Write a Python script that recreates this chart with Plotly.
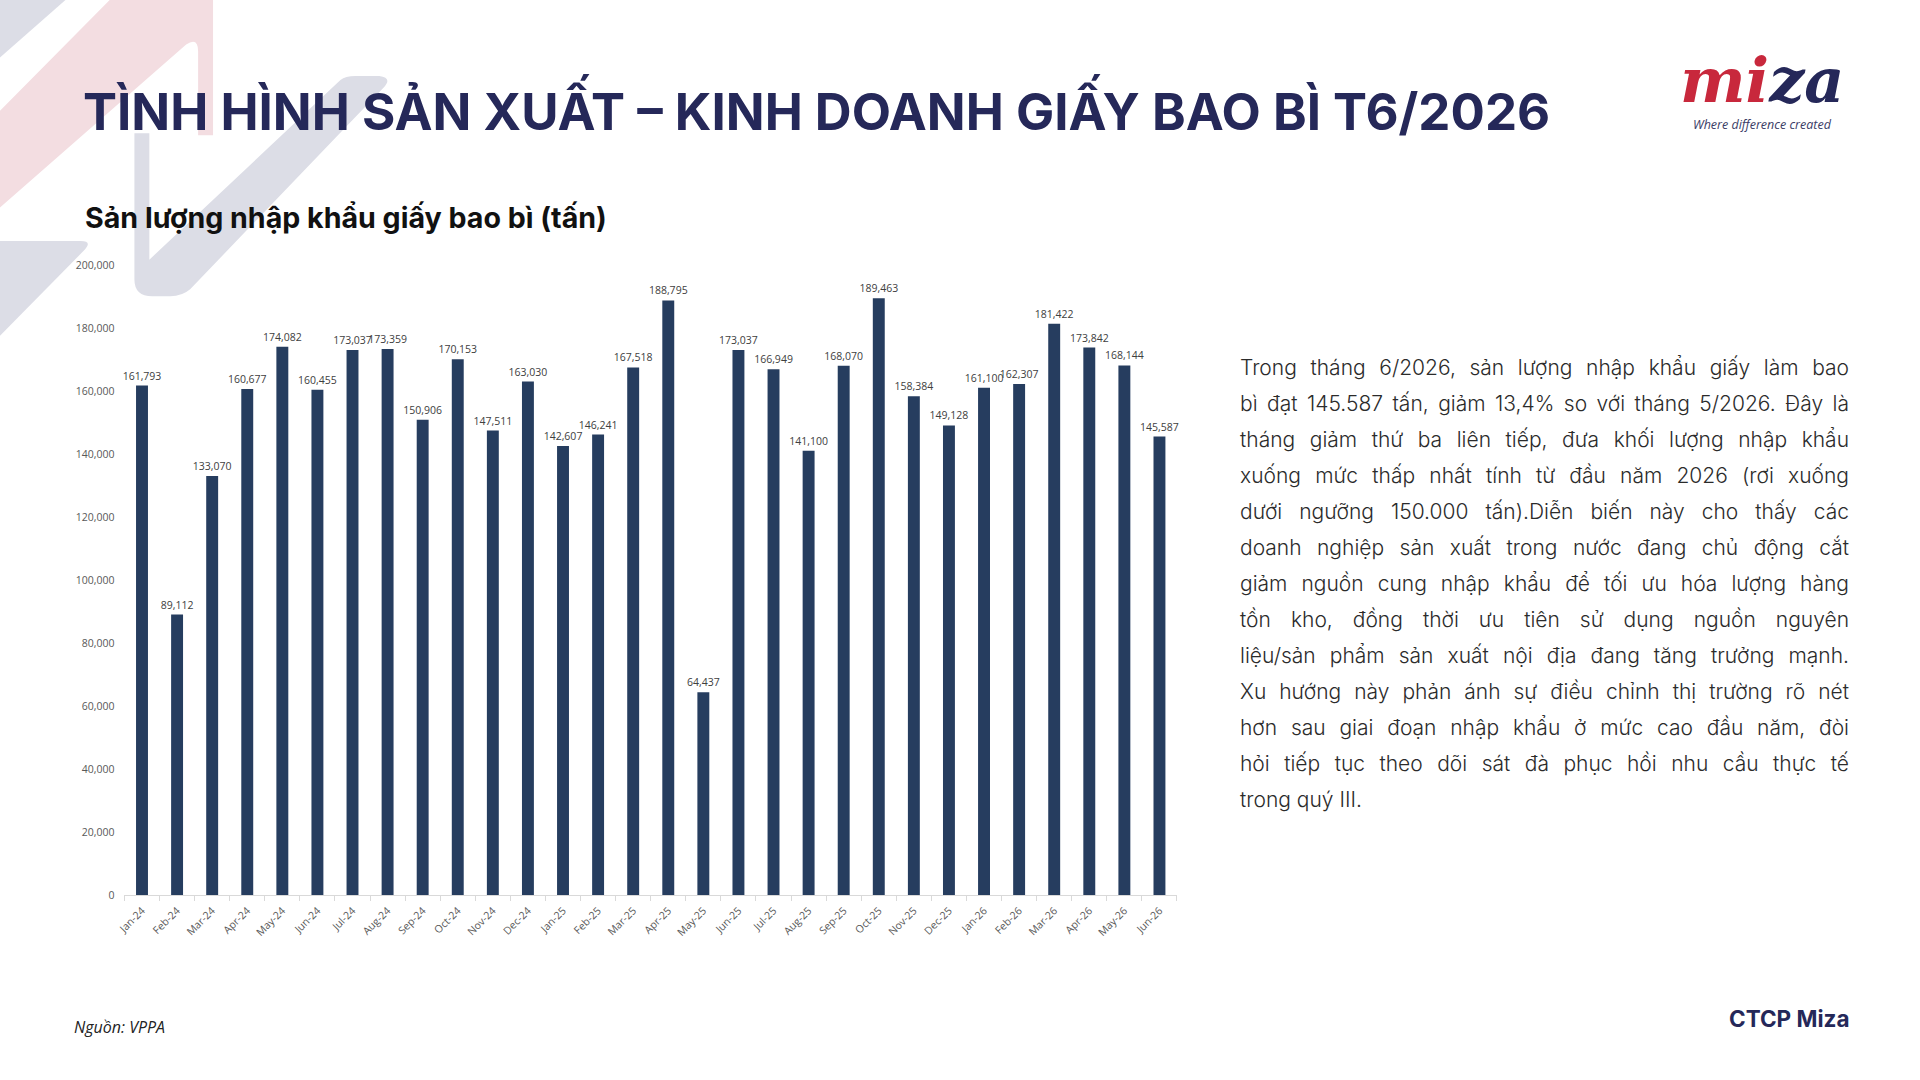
import plotly.graph_objects as go

W, H = 1920, 1080

months = ["Jan-24", "Feb-24", "Mar-24", "Apr-24", "May-24", "Jun-24", "Jul-24", "Aug-24",
          "Sep-24", "Oct-24", "Nov-24", "Dec-24", "Jan-25", "Feb-25", "Mar-25", "Apr-25",
          "May-25", "Jun-25", "Jul-25", "Aug-25", "Sep-25", "Oct-25", "Nov-25", "Dec-25",
          "Jan-26", "Feb-26", "Mar-26", "Apr-26", "May-26", "Jun-26"]
imports = [161793, 89112, 133070, 160677, 174082, 160455, 173037, 173359,
           150906, 170153, 147511, 163030, 142607, 146241, 167518, 188795,
           64437, 173037, 166949, 141100, 168070, 189463, 158384, 149128,
           161100, 162307, 181422, 173842, 168144, 145587]
y_ticks = [0, 20000, 40000, 60000, 80000, 100000, 120000, 140000, 160000, 180000, 200000]

title = "TÌNH HÌNH SẢN XUẤT – KINH DOANH GIẤY BAO BÌ T6/2026"
subtitle = "Sản lượng nhập khẩu giấy bao bì (tấn)"
paragraph = [
    "Trong tháng 6/2026, sản lượng nhập khẩu giấy làm bao",
    "bì đạt 145.587 tấn, giảm 13,4% so với tháng 5/2026. Đây là",
    "tháng giảm thứ ba liên tiếp, đưa khối lượng nhập khẩu",
    "xuống mức thấp nhất tính từ đầu năm 2026 (rơi xuống",
    "dưới ngưỡng 150.000 tấn).Diễn biến này cho thấy các",
    "doanh nghiệp sản xuất trong nước đang chủ động cắt",
    "giảm nguồn cung nhập khẩu để tối ưu hóa lượng hàng",
    "tồn kho, đồng thời ưu tiên sử dụng nguồn nguyên",
    "liệu/sản phẩm sản xuất nội địa đang tăng trưởng mạnh.",
    "Xu hướng này phản ánh sự điều chỉnh thị trường rõ nét",
    "hơn sau giai đoạn nhập khẩu ở mức cao đầu năm, đòi",
    "hỏi tiếp tục theo dõi sát đà phục hồi nhu cầu thực tế",
    "trong quý III.",
]
source = "Nguồn: VPPA"
company = "CTCP Miza"
tagline = "Where difference created"

NAVY = "#252859"
BAR = "#263d5f"
RED = "#c8283c"
PINK = "#f3dde1"
GREY = "#dcdde6"


def px(x, y):
    return x / W, 1 - y / H


def svg(segs):
    # segs: list of (cmd, [(x, y), ...]) in screen pixels -> paper path
    out = []
    for cmd, pts in segs:
        coords = []
        for x, y in pts:
            a, b = px(x, y)
            coords.append(f"{a:.5f},{b:.5f}")
        out.append(cmd + " ".join(coords))
    return " ".join(out)


# faint background marks behind the header
deco = [
    (PINK, svg([("M", [(104, -10)]), ("L", [(205, -10)]), ("L", [(205, 130)]), ("L", [(190, 130)]),
                ("L", [(190, 45)]), ("Q", [(190, 30), (178, 38)]), ("L", [(-10, 204)]),
                ("L", [(-10, 106)]), ("Z", [])])),
    (GREY, svg([("M", [(-10, -10)]), ("L", [(60, -10)]), ("L", [(-10, 52)]), ("Z", [])])),
    (GREY, svg([("M", [(126, 128)]), ("L", [(141, 128)]), ("L", [(141, 256)]), ("L", [(333, 74)]),
                ("Q", [(338, 70), (348, 70)]), ("L", [(372, 70)]), ("Q", [(386, 72), (376, 82)]),
                ("L", [(182, 286)]), ("Q", [(174, 293), (162, 293)]), ("L", [(144, 293)]),
                ("Q", [(126, 293), (126, 276)]), ("Z", [])])),
    (GREY, svg([("M", [(-10, 237)]), ("L", [(72, 237)]), ("Q", [(84, 237), (76, 246)]),
                ("L", [(-10, 334)]), ("Z", [])])),
]

fig = go.Figure(go.Bar(
    x=months, y=imports,
    marker=dict(color=BAR, line=dict(width=0)),
    texttemplate="%{y:,}", textposition="outside", constraintext="none",
    cliponaxis=False,
    textfont=dict(family="Open Sans", size=10.5, color="#404040"),
    hoverinfo="x+y",
))

x0, ytop = px(116, 261.5)
x1, ybot = px(1173.5, 900)

fig.update_layout(
    width=W, height=H,
    margin=dict(l=0, r=0, t=0, b=0),
    paper_bgcolor="white", plot_bgcolor="rgba(0,0,0,0)",
    showlegend=False,
    bargap=0.66,
    font=dict(family="Open Sans", color="#595959"),
    xaxis=dict(domain=[x0, x1], type="category", showgrid=False, showline=True,
               linecolor="#d9d9d9", linewidth=1, ticks="outside", tickson="boundaries",
               ticklen=5, tickcolor="#d9d9d9", tickangle=-45, ticklabelstandoff=4,
               tickfont=dict(family="Open Sans", size=10.5, color="#595959")),
    yaxis=dict(domain=[ybot, ytop], range=[0, 200000], tickvals=y_ticks, tickformat=",",
               showgrid=False, zeroline=False, showline=False, ticks="",
               ticklabelstandoff=9,
               tickfont=dict(family="Open Sans", size=10.5, color="#595959")),
    shapes=[dict(type="path", path=p, xref="paper", yref="paper", fillcolor=c,
                 line=dict(width=0), layer="below") for c, p in deco],
)

ann = []
# paragraph lines first: their indices are used by the justify script below
for i, line in enumerate(paragraph):
    x, y = px(1235, 365 + 36.5 * i)
    ann.append(dict(x=x, y=y, text=line, xanchor="left", yanchor="middle",
                    font=dict(family="Inter", size=21, color="#2b2b2b", weight=300)))

x, y = px(72, 102)
ann.append(dict(x=x, y=y, text=f"<b>{title}</b>", xanchor="left", yanchor="middle",
                font=dict(family="Inter", size=51, color=NAVY)))
x, y = px(74, 213)
ann.append(dict(x=x, y=y, text=f"<b>{subtitle}</b>", xanchor="left", yanchor="middle",
                font=dict(family="Inter", size=28.6, color="#111111")))
x, y = px(63, 1033)
ann.append(dict(x=x, y=y, text=f"<i>{source}</i>", xanchor="left", yanchor="middle",
                font=dict(family="Open Sans", size=16, color="#222222")))
x, y = px(1852, 1025)
ann.append(dict(x=x, y=y, text=f"<b>{company}</b>", xanchor="right", yanchor="middle",
                font=dict(family="Inter", size=22.5, color=NAVY)))
x, y = px(1762, 74)
ann.append(dict(x=x, y=y, text=f"<b><i><span style='color:{RED}'>mi</span>za</i></b>",
                xanchor="center", yanchor="middle",
                font=dict(family="DejaVu Serif", size=62, color=NAVY)))
x, y = px(1762, 119)
ann.append(dict(x=x, y=y, text=f"<i>{tagline}</i>", xanchor="center", yanchor="middle",
                font=dict(family="Open Sans", size=12.5, color="#3a3c66")))

for a in ann:
    a.update(xref="paper", yref="paper", showarrow=False)
fig.update_layout(annotations=ann)

justify = """
document.documentElement.style.margin = '0';
document.documentElement.style.overflow = 'hidden';
document.body.setAttribute('style', 'margin:0;padding:0;overflow:hidden;');
window.scrollTo(0, 0);
var gd = document.getElementById('{plot_id}');
var LINE_W = 609, N = %d;
gd.querySelectorAll('g.annotation').forEach(function (g) {
  var i = parseInt(g.getAttribute('data-index'));
  if (!(i < N)) return;
  var t = g.querySelector('text.annotation-text');
  if (!t) return;
  var spaces = (t.textContent.match(/ /g) || []).length;
  if (!spaces) return;
  var b0 = t.getBBox();
  t.style.wordSpacing = ((LINE_W - b0.width) / spaces) + 'px';
  var b1 = t.getBBox();
  t.setAttribute('transform', 'translate(' + (b0.x - b1.x) + ',0)');
});
""" % (len(paragraph) - 1)

fig.write_html("out.html", post_script=justify, config={"displayModeBar": False})
